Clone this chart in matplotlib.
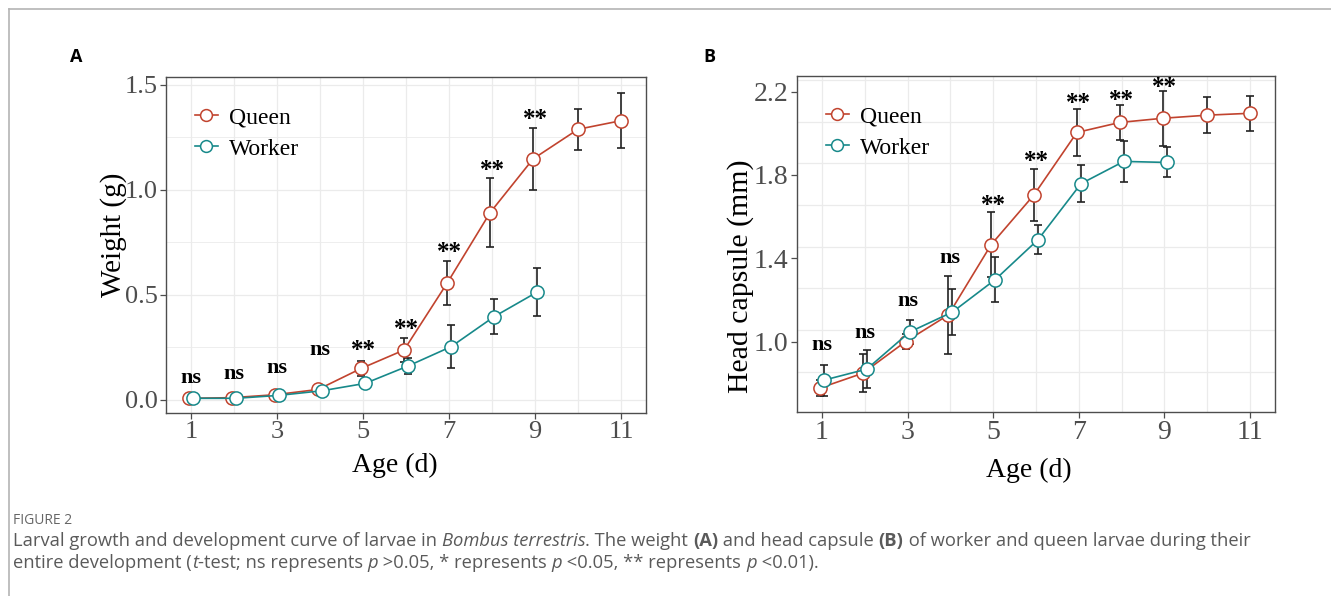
import matplotlib
matplotlib.use("Agg")
from matplotlib import pyplot as plt


DAYS = [1, 2, 3, 4, 5, 6, 7, 8, 9, 10, 11]
WORKER_DAYS = [1, 2, 3, 4, 5, 6, 7, 8, 9]

# panel A - weight (g)
weight_queen = [0.008, 0.011, 0.025, 0.050, 0.150, 0.238, 0.556, 0.892, 1.148, 1.289, 1.330]
weight_queen_sd = [0.005, 0.005, 0.006, 0.010, 0.037, 0.057, 0.104, 0.165, 0.146, 0.097, 0.132]
weight_worker = [0.008, 0.008, 0.022, 0.044, 0.079, 0.162, 0.254, 0.397, 0.514]
weight_worker_sd = [0.004, 0.004, 0.005, 0.008, 0.012, 0.040, 0.102, 0.084, 0.115]
weight_sig = ['ns', 'ns', 'ns', 'ns', '**', '**', '**', '**', '**']
weight_sig_y = [0.103, 0.122, 0.150, 0.240, 0.262, 0.362, 0.727, 1.116, 1.360]

# panel B - head capsule (mm)
head_queen = [0.777, 0.848, 1.000, 1.128, 1.466, 1.705, 2.004, 2.052, 2.072, 2.087, 2.096]
head_queen_sd = [0.040, 0.092, 0.036, 0.188, 0.155, 0.125, 0.112, 0.082, 0.132, 0.087, 0.083]
head_worker = [0.815, 0.868, 1.046, 1.142, 1.298, 1.490, 1.758, 1.865, 1.860]
head_worker_sd = [0.075, 0.092, 0.057, 0.112, 0.107, 0.068, 0.088, 0.100, 0.072]
head_sig = ['ns', 'ns', 'ns', 'ns', '**', '**', '**', '**', '**']
head_sig_y = [0.982, 1.043, 1.195, 1.400, 1.677, 1.889, 2.168, 2.184, 2.243]

QUEEN_COL = '#C1432E'
WORKER_COL = '#17898A'
SERIF = 'Liberation Serif'
W, H = 1331, 596

fig = plt.figure(figsize=(W / 100, H / 100), dpi=100)


def px_axes(left, top, right, bottom):
    return fig.add_axes([left / W, 1 - bottom / H, (right - left) / W, (bottom - top) / H])


def draw_panel(ax, queen, queen_sd, worker, worker_sd, sig, sig_y, tick_size, lab_size):
    q_x = [d - 0.045 if d in WORKER_DAYS else d for d in DAYS]
    w_x = [d + 0.05 for d in WORKER_DAYS]
    ax.errorbar(q_x, queen, yerr=queen_sd, fmt='none', ecolor='#222222', elinewidth=1.2,
                capsize=2.8, capthick=1.2, zorder=3)
    ax.errorbar(w_x, worker, yerr=worker_sd, fmt='none', ecolor='#222222', elinewidth=1.2,
                capsize=2.8, capthick=1.2, zorder=3)
    ax.plot(q_x, queen, color=QUEEN_COL, lw=1.2, marker='o', ms=9.5, mfc='white',
            mec=QUEEN_COL, mew=1.1, zorder=4, label='Queen')
    ax.plot(w_x, worker, color=WORKER_COL, lw=1.2, marker='o', ms=9.5, mfc='white',
            mec=WORKER_COL, mew=1.1, zorder=5, label='Worker')
    for d, s, y in zip(WORKER_DAYS, sig, sig_y):
        if s == 'ns':
            ax.text(d, y, s, ha='center', va='center', fontsize=16, fontweight='bold',
                    family=SERIF, zorder=6)
        else:
            # asterisks sit high in the glyph box, so anchor the top a bit above
            ax.annotate(s, (d, y), xytext=(0, 4.5), textcoords='offset points',
                        ha='center', va='top', fontsize=18, fontweight='bold',
                        family=SERIF, zorder=6)
    ax.set_xlim(0.42, 11.58)
    ax.set_xticks([1, 3, 5, 7, 9, 11])
    ax.set_xticks(DAYS, minor=True)
    for sp in ax.spines.values():
        sp.set_color('#4d4d4d')
        sp.set_linewidth(1.0)
    ax.tick_params(which='major', length=4, width=0.9, color='#4d4d4d', labelcolor='#4d4d4d',
                   labelsize=tick_size, pad=2)
    ax.tick_params(which='minor', length=0)
    for lab in ax.get_xticklabels() + ax.get_yticklabels():
        lab.set_family(SERIF)
    ax.xaxis.grid(True, which='both', color='#ebebeb', lw=0.9)
    ax.set_axisbelow(True)
    ax.set_xlabel('Age (d)', family=SERIF, fontsize=lab_size)
    leg = ax.legend(loc='upper left', bbox_to_anchor=(0.04, 0.94), frameon=False,
                    prop={'family': SERIF, 'size': 17}, handlelength=1.0,
                    handletextpad=0.45, labelspacing=0.42, borderaxespad=0)
    for h in leg.legend_handles:
        h.set_markersize(8.5)


# panel A
axA = px_axes(166, 77, 646, 413)
draw_panel(axA, weight_queen, weight_queen_sd, weight_worker, weight_worker_sd,
           weight_sig, weight_sig_y, 19, 20)
axA.set_ylim(-0.062, 1.538)
axA.set_yticks([0.0, 0.5, 1.0, 1.5])
axA.set_yticks([0.25, 0.75, 1.25], minor=True)
axA.set_yticklabels(['0.0', '0.5', '1.0', '1.5'], family=SERIF)
axA.yaxis.grid(True, which='major', color='#ebebeb', lw=0.9)
axA.yaxis.grid(True, which='minor', color='#ebebeb', lw=0.6)
axA.set_ylabel('Weight (g)', family=SERIF, fontsize=21)
axA.yaxis.set_label_coords(-0.11, 0.53)
axA.xaxis.set_label_coords(0.477, -0.155)
axA.xaxis.label.set_va('center')
axA.yaxis.label.set_va('center')

# panel B
axB = px_axes(797, 76, 1275, 412)
draw_panel(axB, head_queen, head_queen_sd, head_worker, head_worker_sd,
           head_sig, head_sig_y, 20, 20)
axB.set_ylim(0.662, 2.275)
axB.set_yticks([1.0, 1.4, 1.8, 2.2])
axB.set_yticklabels(['1.0', '1.4', '1.8', '2.2'], family=SERIF)
# the grid of this panel sits off the tick labels in the original
for gy in [0.856, 1.056, 1.256, 1.456, 1.656, 1.856, 2.056, 2.256]:
    axB.axhline(gy, color='#ebebeb', lw=0.9, zorder=0)
axB.set_ylabel('Head capsule (mm)', family=SERIF, fontsize=21.5)
axB.yaxis.set_label_coords(-0.119, 0.405)
axB.xaxis.set_label_coords(0.485, -0.173)
axB.xaxis.label.set_va('center')
axB.yaxis.label.set_va('center')

fig.text(76 / W, 1 - 57 / H, 'A', family='Open Sans', fontweight='bold', fontsize=13,
         ha='center', va='center')
fig.text(709 / W, 1 - 57 / H, 'B', family='Open Sans', fontweight='bold', fontsize=13,
         ha='center', va='center')

# frame of the figure page
fig.add_artist(plt.Line2D([9 / W, 1], [1 - 9 / H, 1 - 9 / H], color='#b4b4b4', lw=1.2))
fig.add_artist(plt.Line2D([9 / W, 9 / W], [0, 1 - 9 / H], color='#b4b4b4', lw=1.2))

fig.text(13 / W, 1 - 520 / H, 'FIGURE 2', family='Open Sans', fontsize=10,
         color='#666666', va='center')

renderer = fig.canvas.get_renderer()
CAP_SIZE = 13.25
CAP_COL = '#5a5a5a'


def rich_line(x_px, y_px, pieces):
    x = x_px
    for txt, style in pieces:
        kw = dict(family='Open Sans', fontsize=CAP_SIZE, color=CAP_COL, va='center')
        if style == 'i':
            kw['style'] = 'italic'
        if style == 'b':
            kw['fontweight'] = 'bold'
        fig.text(x / W, 1 - y_px / H, txt, **kw)
        probe = fig.text(0, 0, txt + '|', **kw)
        bar = fig.text(0, 0, '|', **kw)
        w = probe.get_window_extent(renderer).width - bar.get_window_extent(renderer).width
        probe.remove()
        bar.remove()
        x += w


rich_line(13, 541, [
    ('Larval growth and development curve of larvae in ', ''),
    ('Bombus terrestris', 'i'),
    ('. The weight ', ''),
    ('(A)', 'b'),
    (' and head capsule ', ''),
    ('(B)', 'b'),
    (' of worker and queen larvae during their', ''),
])
rich_line(13, 563, [
    ('entire development (', ''),
    ('t', 'i'),
    ('-test; ns represents ', ''),
    ('p', 'i'),
    (' >0.05, * represents ', ''),
    ('p', 'i'),
    (' <0.05, ** represents ', ''),
    ('p', 'i'),
    (' <0.01).', ''),
])

fig.savefig('out.png', dpi=100)
